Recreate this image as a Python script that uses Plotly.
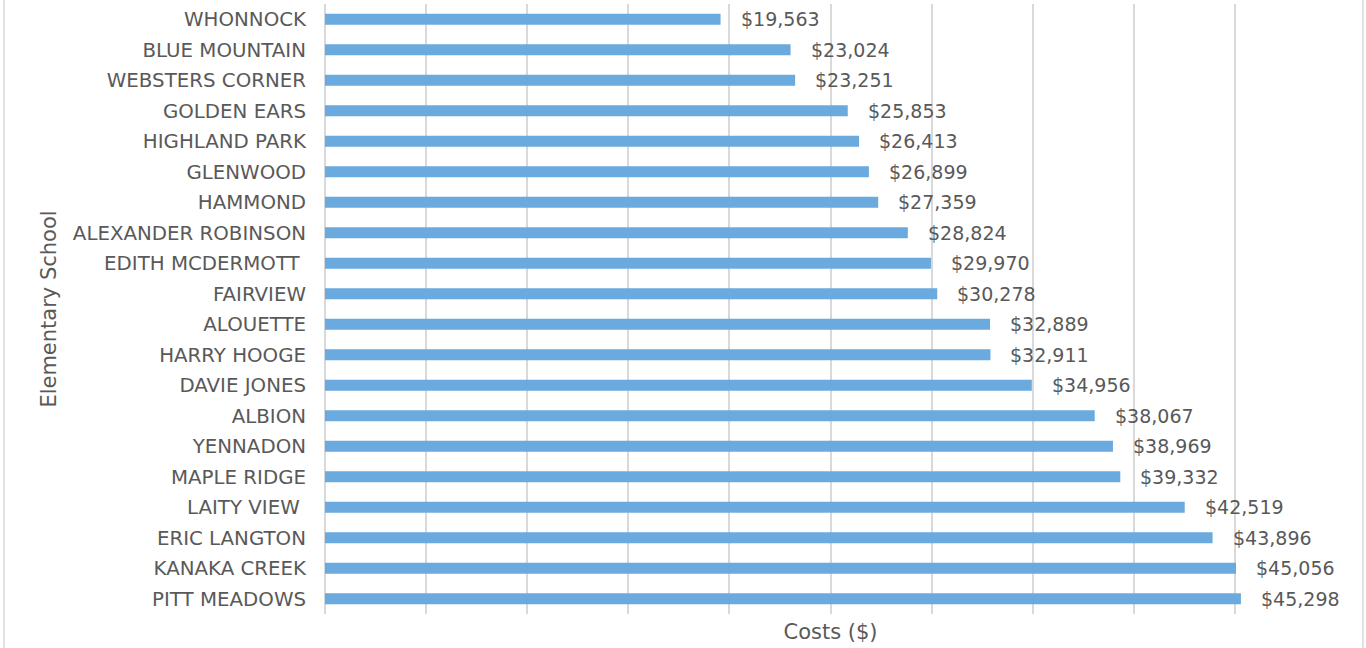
import plotly.graph_objects as go

schools = [
    "WHONNOCK", "BLUE MOUNTAIN", "WEBSTERS CORNER", "GOLDEN EARS",
    "HIGHLAND PARK", "GLENWOOD", "HAMMOND", "ALEXANDER ROBINSON",
    "EDITH MCDERMOTT ", "FAIRVIEW", "ALOUETTE", "HARRY HOOGE",
    "DAVIE JONES", "ALBION", "YENNADON", "MAPLE RIDGE", "LAITY VIEW ",
    "ERIC LANGTON", "KANAKA CREEK", "PITT MEADOWS",
]
costs = [
    19563, 23024, 23251, 25853, 26413, 26899, 27359, 28824, 29970, 30278,
    32889, 32911, 34956, 38067, 38969, 39332, 42519, 43896, 45056, 45298,
]

TEXT = "#595959"
GRID = "#D9D9D9"
FONT = "DejaVu Sans"

fig = go.Figure(
    go.Bar(
        x=costs,
        y=schools,
        orientation="h",
        marker=dict(color="#6AAADE", line=dict(width=0)),
        hoverinfo="x+y",
    )
)

# value labels to the right of each bar
for s, c in zip(schools, costs):
    fig.add_annotation(
        x=c, y=s, xref="x", yref="y",
        text=f"${c:,}", showarrow=False,
        xanchor="left", yanchor="middle", xshift=18,
        font=dict(family=FONT, size=19, color=TEXT),
    )

# chart-area border
fig.add_shape(
    type="rect", xref="paper", yref="paper",
    x0=-0.3175, x1=1.0267, y0=-0.2, y1=1.2,
    line=dict(color=GRID, width=1.5), layer="below",
)

fig.update_layout(
    width=1366, height=648,
    margin=dict(l=325, r=30, t=4, b=34),
    paper_bgcolor="white", plot_bgcolor="white",
    bargap=0.64,
    showlegend=False,
    font=dict(family=FONT, size=19, color=TEXT),
    xaxis=dict(
        range=[0, 50000], dtick=5000, showgrid=True,
        gridcolor=GRID, gridwidth=1.5,
        showticklabels=False, zeroline=True, zerolinecolor=GRID,
        zerolinewidth=1.5, showline=False,
        title=dict(text="Costs ($)", standoff=10,
                   font=dict(family=FONT, size=21, color=TEXT)),
        automargin=False,
    ),
    yaxis=dict(
        autorange="reversed", showgrid=False, showline=False,
        ticks="", ticklabelstandoff=18,
        tickfont=dict(family=FONT, size=19.8, color=TEXT),
        title=dict(text="Elementary School", standoff=10,
                   font=dict(family=FONT, size=21, color=TEXT)),
        automargin=False,
    ),
)

fig.write_html("out.html")
